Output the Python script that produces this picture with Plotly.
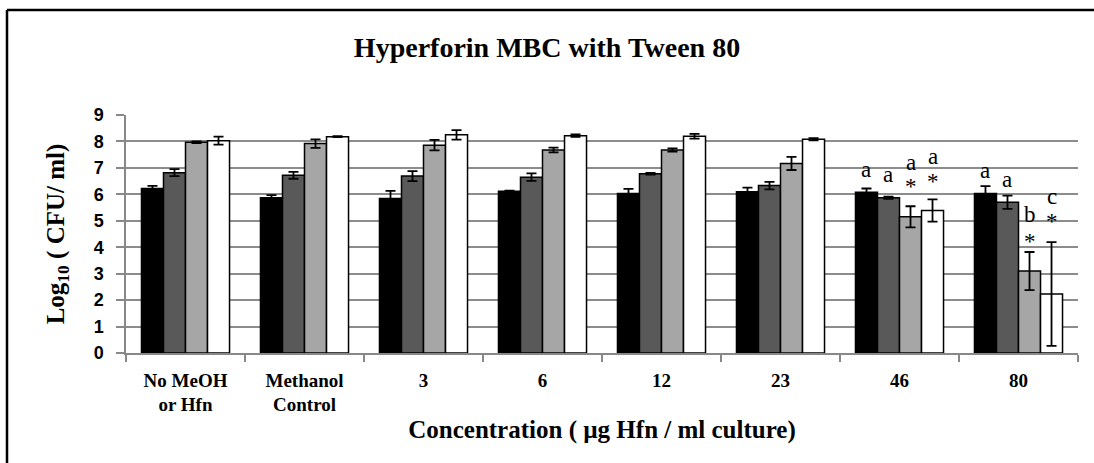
import plotly.graph_objects as go

categories = ["No MeOH<br>or Hfn", "Methanol<br>Control", "3", "6", "12", "23", "46", "80"]
series_names = ["S1", "S2", "S3", "S4"]
colors = ["#000000", "#595959", "#a6a6a6", "#ffffff"]

s1 = [6.22, 5.87, 5.84, 6.12, 6.03, 6.10, 6.08, 6.03]
s2 = [6.82, 6.72, 6.69, 6.65, 6.78, 6.33, 5.87, 5.70]
s3 = [7.97, 7.92, 7.86, 7.68, 7.68, 7.17, 5.15, 3.10]
s4 = [8.03, 8.18, 8.25, 8.22, 8.20, 8.08, 5.39, 2.23]

e1 = [0.10, 0.10, 0.29, 0.02, 0.18, 0.15, 0.14, 0.28]
e2 = [0.13, 0.13, 0.19, 0.14, 0.03, 0.14, 0.04, 0.25]
e3 = [0.03, 0.16, 0.20, 0.09, 0.06, 0.25, 0.40, 0.72]
e4 = [0.15, 0.02, 0.18, 0.05, 0.09, 0.04, 0.42, 1.96]

y_ticks = [0, 1, 2, 3, 4, 5, 6, 7, 8, 9]

values = [s1, s2, s3, s4]
errors = [e1, e2, e3, e4]

# significance annotations: (category, series index, text, y)
annot_cat = ["46", "46", "46", "46", "46", "46", "80", "80", "80", "80", "80", "80"]
annot_ser = [0, 1, 2, 2, 3, 3, 0, 1, 2, 2, 3, 3]
annot_txt = ["a", "a", "a", "*", "a", "*", "a", "a", "b", "*", "c", "*"]
annot_y = [6.94, 6.76, 7.21, 6.30, 7.44, 6.49, 6.91, 6.57, 5.24, 4.21, 5.92, 4.97]

W, H = 1094, 463
ML, MR, MT, MB = 126, 16, 115, 110
plot_w = W - ML - MR
plot_h = H - MT - MB
bargap = 0.26

fig = go.Figure()
for name, vals, errs, col in zip(series_names, values, errors, colors):
    fig.add_trace(go.Bar(
        x=categories, y=vals, name=name,
        marker=dict(color=col, line=dict(color="#000000", width=1.5)),
        error_y=dict(type="data", array=errs, visible=True, color="#000000",
                     thickness=1.8, width=5),
    ))

bar_px = plot_w / len(categories) * (1 - bargap) / 4
for c, s, t, y in zip(annot_cat, annot_ser, annot_txt, annot_y):
    fig.add_annotation(
        x=categories.index(c), y=y, text=t, showarrow=False,
        xshift=(s - 1.5) * bar_px, yanchor="middle",
        font=dict(family="Liberation Serif", size=23, color="#000000"),
    )

def px_to_paper_x(px):
    return (px - ML) / plot_w

def px_to_paper_y(py):
    return (H - MB - py) / plot_h

# outer frame: top and left edges visible
fig.add_shape(type="line", xref="paper", yref="paper",
              x0=px_to_paper_x(7), x1=px_to_paper_x(1094),
              y0=px_to_paper_y(10), y1=px_to_paper_y(10),
              line=dict(color="#000000", width=2.5), layer="below")
fig.add_shape(type="line", xref="paper", yref="paper",
              x0=px_to_paper_x(7), x1=px_to_paper_x(7),
              y0=px_to_paper_y(10), y1=px_to_paper_y(463),
              line=dict(color="#000000", width=2.5), layer="below")

fig.update_layout(
    width=W, height=H,
    margin=dict(l=ML, r=MR, t=MT, b=MB),
    paper_bgcolor="#ffffff", plot_bgcolor="#ffffff",
    barmode="group", bargap=bargap, bargroupgap=0,
    showlegend=False,
    title=dict(text="<b>Hyperforin MBC with Tween 80</b>", x=0.5, xanchor="center",
               xref="container",
               y=1 - 47 / H, yanchor="middle",
               font=dict(family="Liberation Serif", size=28, color="#000000")),
    xaxis=dict(
        type="category",
        tickfont=dict(family="Liberation Serif", size=19, color="#000000", weight="bold"),
        ticks="outside", tickson="boundaries", ticklen=7, tickcolor="#888888", tickwidth=1.5,
        ticklabelstandoff=9,
        showline=True, linecolor="#888888", linewidth=1.5,
        title=dict(text="<b>Concentration ( µg Hfn / ml culture)</b>",
                   font=dict(family="Liberation Serif", size=25, color="#000000"),
                   standoff=6),
        range=[-0.5, 7.5],
    ),
    yaxis=dict(
        range=[0, 9], tickmode="array", tickvals=y_ticks,
        ticktext=["<b>%d</b>" % v for v in y_ticks],
        tickfont=dict(family="Liberation Sans", size=18, color="#000000"),
        ticks="outside", ticklen=8, tickcolor="#888888", tickwidth=1.5,
        ticklabelstandoff=9,
        showline=True, linecolor="#888888", linewidth=1.5,
        showgrid=True, gridcolor="#8c8c8c", gridwidth=1.8,
        zeroline=False,
        title=dict(text="<b>Log<sub>10</sub> ( CFU/ ml)</b>",
                   font=dict(family="Liberation Serif", size=25, color="#000000"),
                   standoff=22),
    ),
)

fig.write_html("out.html", config={"displayModeBar": False},
               post_script="document.body.style.margin='0';document.body.style.padding='0';")
